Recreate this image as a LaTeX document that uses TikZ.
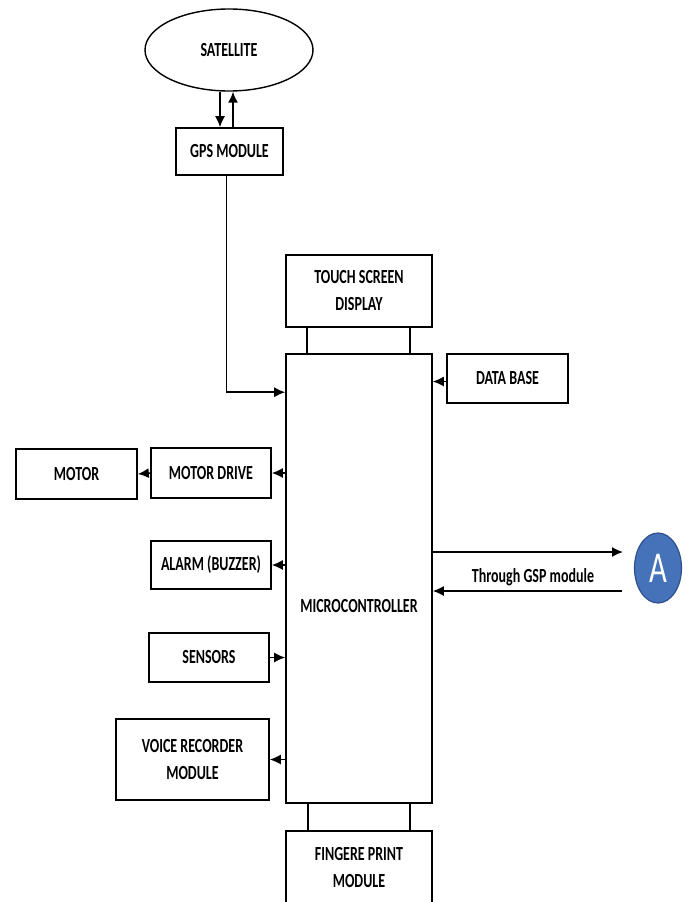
\documentclass[tikz,border=0pt]{standalone}
\usepackage{fontspec}
\setmainfont{Carlito}[FakeStretch=0.7]
\usepackage{tikz}
\usetikzlibrary{arrows.meta, shapes.geometric}
\definecolor{circfill}{RGB}{69,114,185}
\definecolor{circline}{RGB}{47,82,143}
\begin{document}
\begin{tikzpicture}[x=1pt, y=-1pt]
      \tikzset{block/.style = {shape=rectangle,draw,line width=1.6pt,inner sep=0pt,align=center,font=\fontsize{20}{27}\selectfont\bfseries}}
      \tikzset{edge/.style = {-,line width=1.5pt,> = {Latex[length=11pt,width=10pt]}}}
      \useasboundingbox (0, 0) rectangle (688, 902);

      \node[block,shape=ellipse,line width=1.4pt,minimum width=168pt,minimum height=82pt] (sat) at (229, 50) {SATELLITE};
      \node[block,minimum width=107pt,minimum height=47pt] (gps) at (229.5, 151.5) {GPS MODULE};

      \node[block,minimum width=146pt,minimum height=72pt] (touch) at (359, 291) {TOUCH SCREEN\\DISPLAY};
      \node[block,minimum width=146pt,minimum height=449pt] (mc) at (359, 578.5) {};
      \node[block,draw=none] (mclabel) at (359, 606) {MICROCONTROLLER};
      \node[block,minimum width=121pt,minimum height=49pt] (db) at (507.5, 378.5) {DATA BASE};

      \node[block,minimum width=121pt,minimum height=50pt] (motor) at (76.5, 474) {MOTOR};
      \node[block,minimum width=120pt,minimum height=50pt] (mdrive) at (211, 473) {MOTOR DRIVE};
      \node[block,minimum width=120pt,minimum height=48pt] (alarm) at (211, 565) {ALARM (BUZZER)};
      \node[block,minimum width=120pt,minimum height=49pt] (sensors) at (209, 657.5) {SENSORS};
      \node[block,minimum width=153pt,minimum height=81pt] (voice) at (192.5, 759.5) {VOICE RECORDER\\MODULE};

      \node[block,minimum width=146pt,minimum height=74pt] (finger) at (359, 868) {FINGERE PRINT\\MODULE};

      \node[shape=ellipse,draw=circline,fill=circfill,line width=1.2pt,minimum width=47pt,minimum height=70pt,inner sep=0pt,text=white,font=\fontsize{44}{44}\selectfont] (circA) at (658, 568) {A};
      \coordinate (aout) at (623, 552);
      \coordinate (ain) at (622, 591);
      \node[block,draw=none] (thru) at (533, 577) {Through GSP module};

      \draw[edge,->] ([xshift=-9pt]sat.south) to ([xshift=-9pt]sat.south |- gps.north);
      \draw[edge,->] ([xshift=4pt]sat.south |- gps.north) to ([xshift=4pt]sat.south);
      \draw[edge,->] ([xshift=-3pt]gps.south) |- ([yshift=-39pt]mc.north west);

      \draw[edge] ([xshift=-52pt]touch.south) to ([xshift=-52pt]mc.north);
      \draw[edge] ([xshift=51pt]touch.south) to ([xshift=51pt]mc.north);
      \draw[edge,->] ([yshift=-3pt]db.west) to ([yshift=-3pt]db.west -| mc.east);

      \draw[edge,->] (mc.west |- mdrive.east) to (mdrive.east);
      \draw[edge,->] (mdrive.west) to (motor.east);
      \draw[edge,->] (mc.west |- alarm.east) to (alarm.east);
      \draw[edge,->] (sensors.east) to (sensors.east -| mc.west);
      \draw[edge,->] (mc.west |- voice.east) to (voice.east);

      \draw[edge] ([xshift=-51pt]mc.south) to ([xshift=-51pt]finger.north);
      \draw[edge] ([xshift=51pt]mc.south) to ([xshift=51pt]finger.north);

      \draw[edge,->] (aout -| mc.east) to (aout);
      \draw[edge,->] (ain) to (ain -| mc.east);
    \end{tikzpicture}
\end{document}
